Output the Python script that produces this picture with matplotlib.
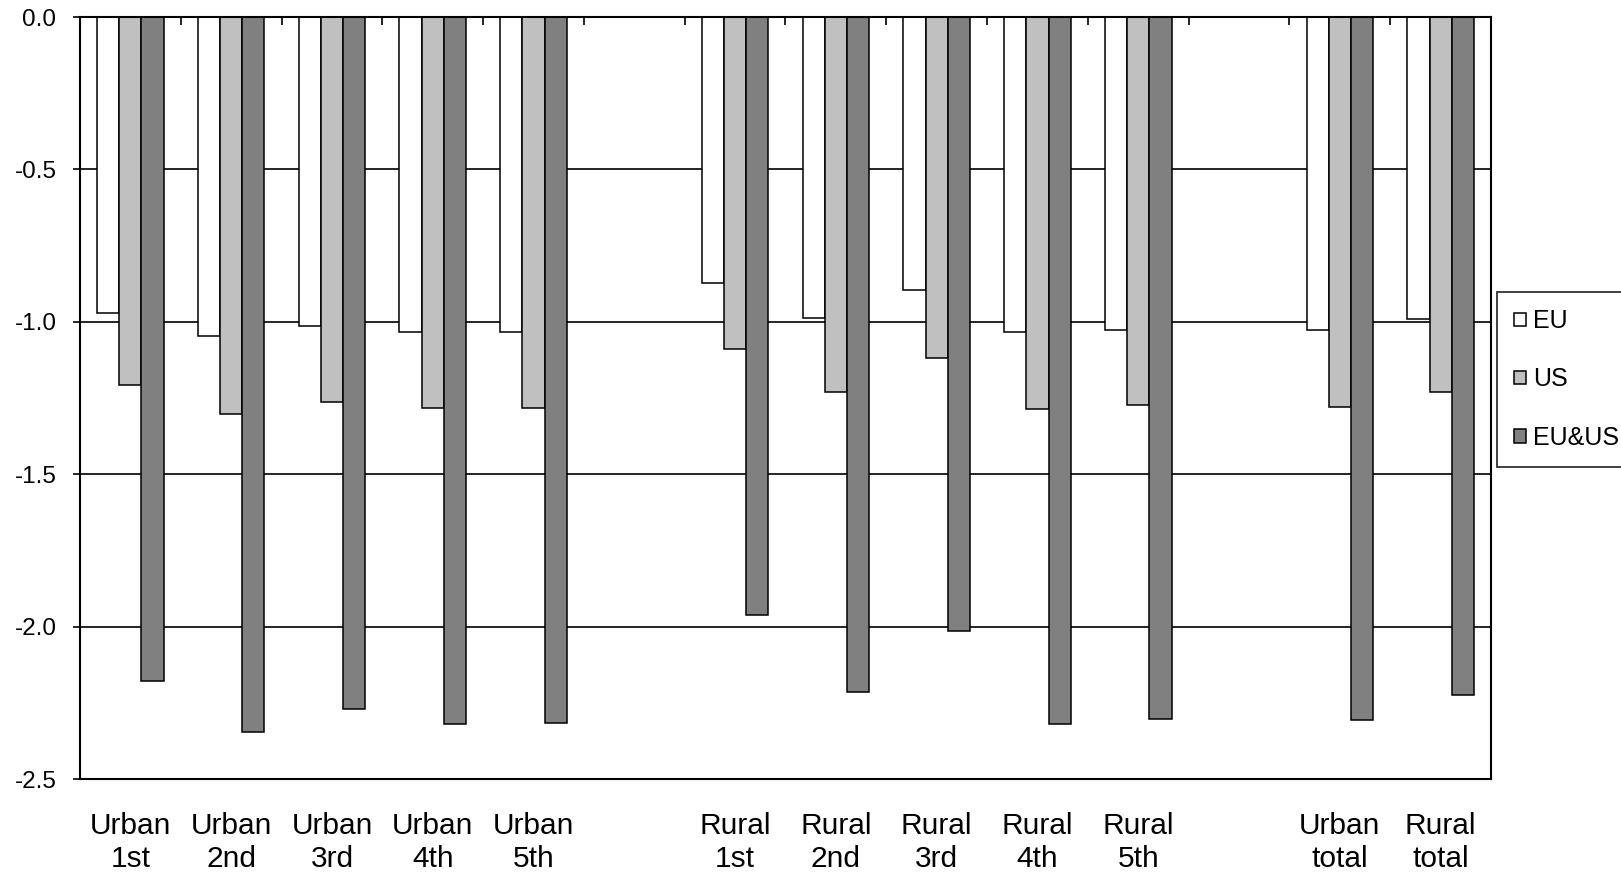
import numpy as np
import matplotlib
matplotlib.use("Agg")
import matplotlib.pyplot as plt
from matplotlib.patches import Patch

plt.rcParams['font.family'] = ['Liberation Sans', 'DejaVu Sans']

categories = ["Urban\n1st", "Urban\n2nd", "Urban\n3rd", "Urban\n4th", "Urban\n5th", "",
              "Rural\n1st", "Rural\n2nd", "Rural\n3rd", "Rural\n4th", "Rural\n5th", "",
              "Urban\ntotal", "Rural\ntotal"]
series_names = ["EU", "US", "EU&US"]
eu = [-0.971, -1.046, -1.015, -1.033, -1.033, None,
      -0.873, -0.989, -0.897, -1.033, -1.027, None,
      -1.027, -0.990]
us = [-1.206, -1.304, -1.262, -1.284, -1.284, None,
      -1.090, -1.231, -1.120, -1.287, -1.273, None,
      -1.279, -1.231]
eu_us = [-2.178, -2.346, -2.271, -2.321, -2.315, None,
         -1.963, -2.216, -2.013, -2.321, -2.302, None,
         -2.308, -2.223]
y_ticks = [0.0, -0.5, -1.0, -1.5, -2.0, -2.5]

colors = ["#FFFFFF", "#C0C0C0", "#808080"]

fig = plt.figure(figsize=(16.21, 8.74), dpi=100)
ax = fig.add_axes([80 / 1621, 1 - 779 / 874, (1491 - 80) / 1621, (779 - 17) / 874])

x = np.arange(len(categories))
w = 0.22
for i, (vals, col, name) in enumerate(zip([eu, us, eu_us], colors, series_names)):
    v = np.array([np.nan if a is None else a for a in vals], dtype=float)
    mask = ~np.isnan(v)
    ax.bar(x[mask] + (i - 1) * w, v[mask], width=w, color=col, edgecolor="black",
           linewidth=1.1, zorder=3, label=name)

ax.set_xlim(-0.5, len(categories) - 0.5)
ax.set_ylim(-2.5, 0.0)

# y axis
ax.set_yticks(y_ticks)
ax.set_yticklabels([f"{t:.1f}" for t in y_ticks])
ax.tick_params(axis="y", direction="out", length=5, width=1.2, pad=12, labelsize=17.5)
for t in y_ticks[1:-1]:
    ax.axhline(t, color="black", linewidth=1.2, zorder=1)

# x axis: ticks at category boundaries at the top, labels at bottom
ax.set_xticks(np.arange(len(categories) + 1) - 0.5)
ax.set_xticks(x, minor=True)
ax.set_xticklabels(categories, minor=True)
ax.tick_params(axis="x", which="major", top=True, bottom=False, direction="in",
               length=6, width=1.2, labelbottom=False, labeltop=False)
ax.tick_params(axis="x", which="minor", top=False, bottom=True, length=0,
               labelbottom=True, pad=24, labelsize=21.5)

for s in ax.spines.values():
    s.set_linewidth(1.5)
    s.set_color("black")
    s.set_zorder(4)

handles = [Patch(facecolor=c, edgecolor="black", linewidth=1.1) for c in colors]
leg = fig.legend(handles, series_names, loc="upper left",
                 bbox_to_anchor=(1497 / 1621, 1 - 292 / 874),
                 frameon=True, fancybox=False, fontsize=18,
                 handlelength=0.45, handleheight=0.45, handletextpad=0.3,
                 labelspacing=1.37, borderpad=0.69, borderaxespad=0.0)
leg.get_frame().set_edgecolor("black")
leg.get_frame().set_linewidth(1.3)

fig.savefig("out.png", dpi=100)
